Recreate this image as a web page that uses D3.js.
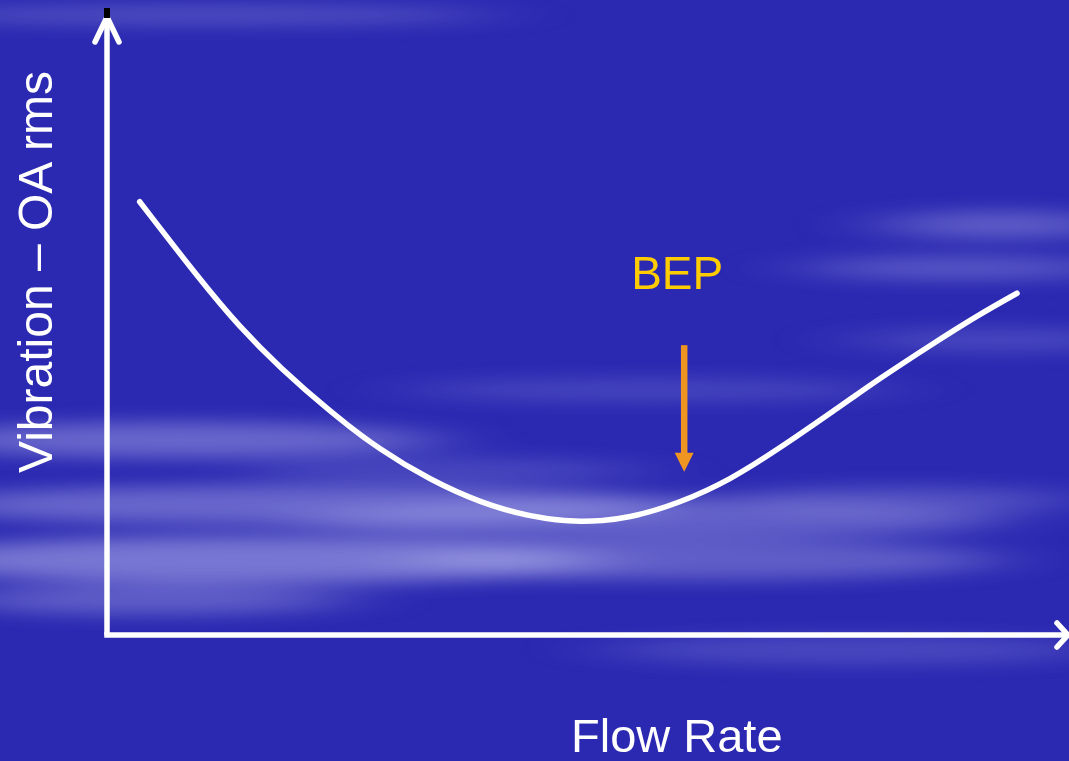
<!DOCTYPE html>
<html>
<head>
<meta charset="utf-8">
<script src="https://cdn.jsdelivr.net/npm/d3@7"></script>
<style>
html,body{margin:0;padding:0;background:#2b29b1;}
svg{display:block;}
</style>
</head>
<body>
<svg id="chart" width="1069" height="761"></svg>
<script>
// ---- data ----
const flowRate  = [3.4, 9.7, 13.8, 18.0, 23.2, 28.4, 33.6, 38.8, 44.0, 49.2, 54.4, 59.6, 64.8, 70.0, 75.2, 80.4, 85.6, 90.7, 94.6];
const vibration = [70.1, 57.4, 49.8, 43.2, 36.1, 29.9, 25.1, 21.4, 19.1, 18.1, 18.9, 21.4, 25.1, 30.3, 35.9, 41.6, 46.9, 51.9, 55.3];
const bepFlow = 60.0;
const bepArrow = [46.9, 26.4];
const xLabel = "Flow Rate";
const yLabel = "Vibration – OA rms";
const bepLabel = "BEP";

// background cloud streaks (decorative)
const streaks = [
  [200, 15, 300, 10, 0.25], [1000, 225, 120, 14, 0.35], [960, 268, 160, 12, 0.3],
  [1000, 340, 150, 12, 0.2], [650, 390, 250, 12, 0.18], [180, 440, 260, 18, 0.4],
  [450, 470, 200, 12, 0.2], [300, 505, 380, 20, 0.4], [650, 520, 350, 20, 0.35],
  [250, 560, 350, 24, 0.5], [700, 560, 300, 20, 0.35], [150, 600, 200, 15, 0.35],
  [850, 650, 250, 15, 0.2], [900, 500, 180, 14, 0.25]
];

const W = 1069, H = 761;
const svg = d3.select("#chart");
const x = d3.scaleLinear().domain([0, 100]).range([107, 1069]);
const y = d3.scaleLinear().domain([0, 100]).range([635, 17]);

const defs = svg.append("defs");
defs.append("filter").attr("id", "blur").attr("x", "-50%").attr("y", "-200%").attr("width", "200%").attr("height", "500%")
  .append("feGaussianBlur").attr("stdDeviation", "45 9");

svg.append("rect").attr("width", W).attr("height", H).attr("fill", "#2b29b1");
svg.append("g").attr("filter", "url(#blur)")
  .selectAll("ellipse").data(streaks).join("ellipse")
  .attr("cx", d => d[0]).attr("cy", d => d[1]).attr("rx", d => d[2]).attr("ry", d => d[3])
  .attr("fill", "#c4c4f4").attr("opacity", d => d[4]);

// axes
const ax = svg.append("g").attr("stroke", "#fff").attr("stroke-width", 5.5).attr("fill", "none")
  .attr("stroke-linecap", "round").attr("stroke-linejoin", "round");
svg.append("rect").attr("x", x(0) - 3).attr("y", y(100) - 9).attr("width", 6).attr("height", 10).attr("fill", "#000");
ax.append("line").attr("x1", x(0)).attr("y1", y(0)).attr("x2", x(0)).attr("y2", y(100)).attr("stroke-linecap", "butt");
ax.append("path").attr("d", `M${x(0) - 12},${y(100) + 25}L${x(0)},${y(100)}L${x(0) + 12},${y(100) + 25}`);
ax.append("line").attr("x1", x(0) - 2.75).attr("y1", y(0)).attr("x2", x(100)).attr("y2", y(0)).attr("stroke-linecap", "butt");
ax.append("path").attr("d", `M${x(100) - 12},${y(0) - 12}L${x(100) - 1},${y(0)}L${x(100) - 12},${y(0) + 12}`);

// curve
const pts = flowRate.map((f, i) => [f, vibration[i]]);
svg.append("path").datum(pts)
  .attr("d", d3.line().x(d => x(d[0])).y(d => y(d[1])).curve(d3.curveBasis))
  .attr("fill", "none").attr("stroke", "#fff").attr("stroke-width", 5.5).attr("stroke-linecap", "round");

// BEP arrow
const ac = "#ee9420";
svg.append("line").attr("x1", x(bepFlow)).attr("x2", x(bepFlow)).attr("y1", y(bepArrow[0])).attr("y2", y(bepArrow[1]) - 18)
  .attr("stroke", ac).attr("stroke-width", 6.5);
svg.append("path")
  .attr("d", `M${x(bepFlow) - 9.5},${y(bepArrow[1]) - 19}L${x(bepFlow) + 9.5},${y(bepArrow[1]) - 19}L${x(bepFlow)},${y(bepArrow[1])}Z`)
  .attr("fill", ac);

svg.append("text").attr("x", x(bepFlow) - 53).attr("y", 289).text(bepLabel)
  .attr("font-family", "Liberation Sans, Arial, sans-serif").attr("font-size", 46).attr("fill", "#ffcc00");

// axis labels
svg.append("text").attr("x", 571).attr("y", 752).text(xLabel)
  .attr("font-family", "Liberation Sans, Arial, sans-serif").attr("font-size", 47).attr("fill", "#fff");
svg.append("text").attr("transform", "translate(52,272) rotate(-90)").attr("text-anchor", "middle").text(yLabel)
  .attr("font-family", "Liberation Sans, Arial, sans-serif").attr("font-size", 48).attr("fill", "#fff");
</script>
</body>
</html>
